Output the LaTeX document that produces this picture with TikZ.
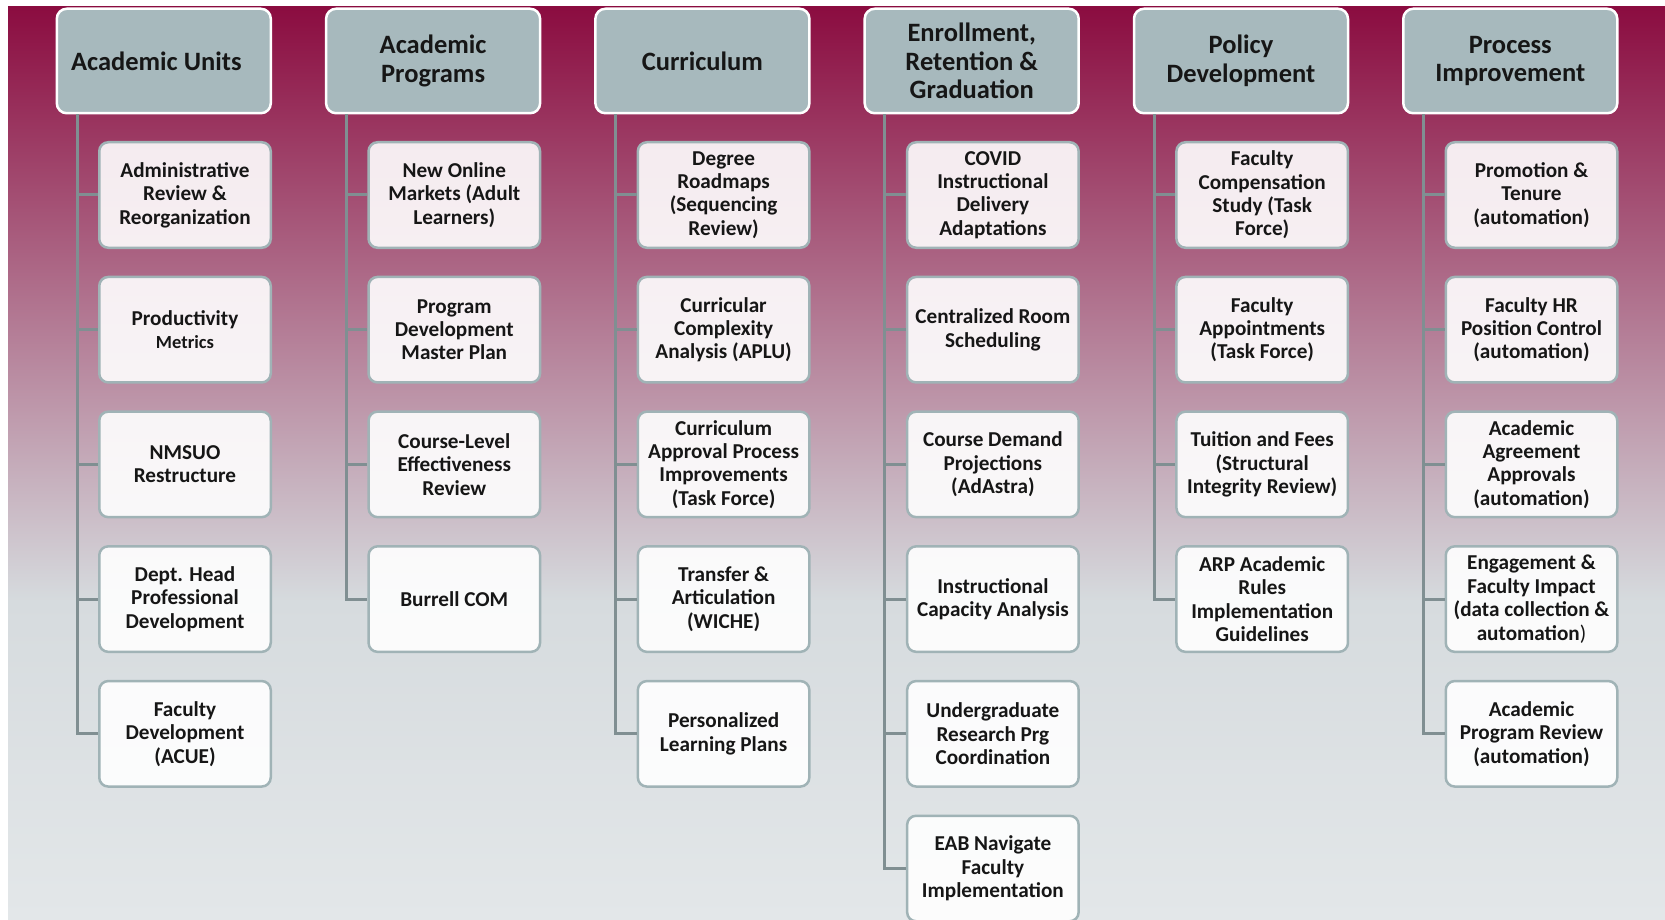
\documentclass[tikz,border=0pt]{standalone}
\usepackage{fontspec}
\setmainfont{Carlito}
\definecolor{bgtop}{RGB}{139,12,64}
\definecolor{bgmid}{RGB}{214,219,222}
\definecolor{bgbot}{RGB}{227,231,233}
\definecolor{headfill}{RGB}{167,185,189}
\definecolor{boxline}{RGB}{160,179,182}
\definecolor{treeline}{RGB}{128,143,146}
\definecolor{ink}{RGB}{22,22,22}
\tikzset{
  head/.style={draw=white, line width=2.5pt, fill=headfill, rounded corners=10pt,
    minimum width=214pt, minimum height=104.5pt, inner sep=0pt, align=center,
    text=ink, font=\fontsize{26.5}{28.7}\selectfont\bfseries},
  item/.style={draw=boxline, line width=2.5pt, fill=white, fill opacity=0.9,
    text opacity=1, rounded corners=9pt, minimum width=171.5pt,
    minimum height=105.5pt, inner sep=0pt, align=center, text=ink,
    font=\fontsize{21.2}{23.4}\selectfont\bfseries},
  link/.style={draw=treeline, line width=3pt}
}
\begin{document}
\begin{tikzpicture}[x=1pt,y=-1pt]
\useasboundingbox (0,0) rectangle (1665,920);
\clip (0,0) rectangle (1665,920);
% background
\shade[top color=bgtop, bottom color=bgmid] (8,6.5) rectangle (1665,601);
\shade[top color=bgmid, bottom color=bgbot] (8,600) rectangle (1665,920);

% column heads
\node[head] (units) at (163.8,61) {Academic Units\hspace*{15pt}};
\node[head] (progs) at (433.1,61) {Academic\\Programs};
\node[head] (curr) at (702.4,61) {Curriculum};
\node[head] (enrol) at (971.7,61) {Enrollment,\\Retention \&\\Graduation};
\node[head] (policy) at (1241.0,61) {Policy\\Development};
\node[head] (process) at (1510.3,61) {Process\\Improvement};

% academic units
\node[item] (units1) at (185.0,195.0) {Administrative\\Review \&\\Reorganization};
\node[item] (units2) at (185.0,329.7) {Productivity\\{\fontsize{18.5}{20}\selectfont Metrics}};
\node[item] (units3) at (185.0,464.4) {NMSUO\\Restructure};
\node[item] (units4) at (185.0,599.1) {Dept. Head\\Professional\\Development};
\node[item] (units5) at (185.0,733.8) {Faculty\\Development\\(ACUE)};

% academic programs
\node[item] (progs1) at (454.3,195.0) {New Online\\Markets (Adult\\Learners)};
\node[item] (progs2) at (454.3,329.7) {Program\\Development\\Master Plan};
\node[item] (progs3) at (454.3,464.4) {Course-Level\\Effectiveness\\Review};
\node[item] (progs4) at (454.3,599.1) {Burrell COM};

% curriculum
\node[item] (curr1) at (723.6,195.0) {Degree\\Roadmaps\\(Sequencing\\Review)};
\node[item] (curr2) at (723.6,329.7) {Curricular\\Complexity\\Analysis (APLU)};
\node[item] (curr3) at (723.6,464.4) {Curriculum\\Approval Process\\Improvements\\(Task Force)};
\node[item] (curr4) at (723.6,599.1) {Transfer \&\\Articulation\\(WICHE)};
\node[item] (curr5) at (723.6,733.8) {Personalized\\Learning Plans};

% enrollment
\node[item] (enrol1) at (992.9,195.0) {COVID\\Instructional\\Delivery\\Adaptations};
\node[item] (enrol2) at (992.9,329.7) {Centralized Room\\Scheduling};
\node[item] (enrol3) at (992.9,464.4) {Course Demand\\Projections\\(AdAstra)};
\node[item] (enrol4) at (992.9,599.1) {Instructional\\Capacity Analysis};
\node[item] (enrol5) at (992.9,733.8) {Undergraduate\\Research Prg\\Coordination};
\node[item] (enrol6) at (992.9,868.5) {EAB Navigate\\Faculty\\Implementation};

% policy
\node[item] (policy1) at (1262.2,195.0) {Faculty\\Compensation\\Study (Task\\Force)};
\node[item] (policy2) at (1262.2,329.7) {Faculty\\Appointments\\(Task Force)};
\node[item] (policy3) at (1262.2,464.4) {Tuition and Fees\\(Structural\\Integrity Review)};
\node[item] (policy4) at (1262.2,599.1) {ARP Academic\\Rules\\Implementation\\Guidelines};

% process
\node[item] (process1) at (1531.5,195.0) {Promotion \&\\Tenure\\(automation)};
\node[item] (process2) at (1531.5,329.7) {Faculty HR\\Position Control\\(automation)};
\node[item] (process3) at (1531.5,464.4) {Academic\\Agreement\\Approvals\\(automation)};
\node[item] (process4) at (1531.5,599.1) {Engagement \&\\Faculty Impact\\(data collection \&\\automation{\mdseries)}};
\node[item] (process5) at (1531.5,733.8) {Academic\\Program Review\\(automation)};

% connectors
\draw[link] ([xshift=21.5pt]units.south west) |- (units1.west);
\draw[link] ([xshift=21.5pt]units.south west) |- (units2.west);
\draw[link] ([xshift=21.5pt]units.south west) |- (units3.west);
\draw[link] ([xshift=21.5pt]units.south west) |- (units4.west);
\draw[link] ([xshift=21.5pt]units.south west) |- (units5.west);
\draw[link] ([xshift=21.5pt]progs.south west) |- (progs1.west);
\draw[link] ([xshift=21.5pt]progs.south west) |- (progs2.west);
\draw[link] ([xshift=21.5pt]progs.south west) |- (progs3.west);
\draw[link] ([xshift=21.5pt]progs.south west) |- (progs4.west);
\draw[link] ([xshift=21.5pt]curr.south west) |- (curr1.west);
\draw[link] ([xshift=21.5pt]curr.south west) |- (curr2.west);
\draw[link] ([xshift=21.5pt]curr.south west) |- (curr3.west);
\draw[link] ([xshift=21.5pt]curr.south west) |- (curr4.west);
\draw[link] ([xshift=21.5pt]curr.south west) |- (curr5.west);
\draw[link] ([xshift=21.5pt]enrol.south west) |- (enrol1.west);
\draw[link] ([xshift=21.5pt]enrol.south west) |- (enrol2.west);
\draw[link] ([xshift=21.5pt]enrol.south west) |- (enrol3.west);
\draw[link] ([xshift=21.5pt]enrol.south west) |- (enrol4.west);
\draw[link] ([xshift=21.5pt]enrol.south west) |- (enrol5.west);
\draw[link] ([xshift=21.5pt]enrol.south west) |- (enrol6.west);
\draw[link] ([xshift=21.5pt]policy.south west) |- (policy1.west);
\draw[link] ([xshift=21.5pt]policy.south west) |- (policy2.west);
\draw[link] ([xshift=21.5pt]policy.south west) |- (policy3.west);
\draw[link] ([xshift=21.5pt]policy.south west) |- (policy4.west);
\draw[link] ([xshift=21.5pt]process.south west) |- (process1.west);
\draw[link] ([xshift=21.5pt]process.south west) |- (process2.west);
\draw[link] ([xshift=21.5pt]process.south west) |- (process3.west);
\draw[link] ([xshift=21.5pt]process.south west) |- (process4.west);
\draw[link] ([xshift=21.5pt]process.south west) |- (process5.west);
\end{tikzpicture}
\end{document}
